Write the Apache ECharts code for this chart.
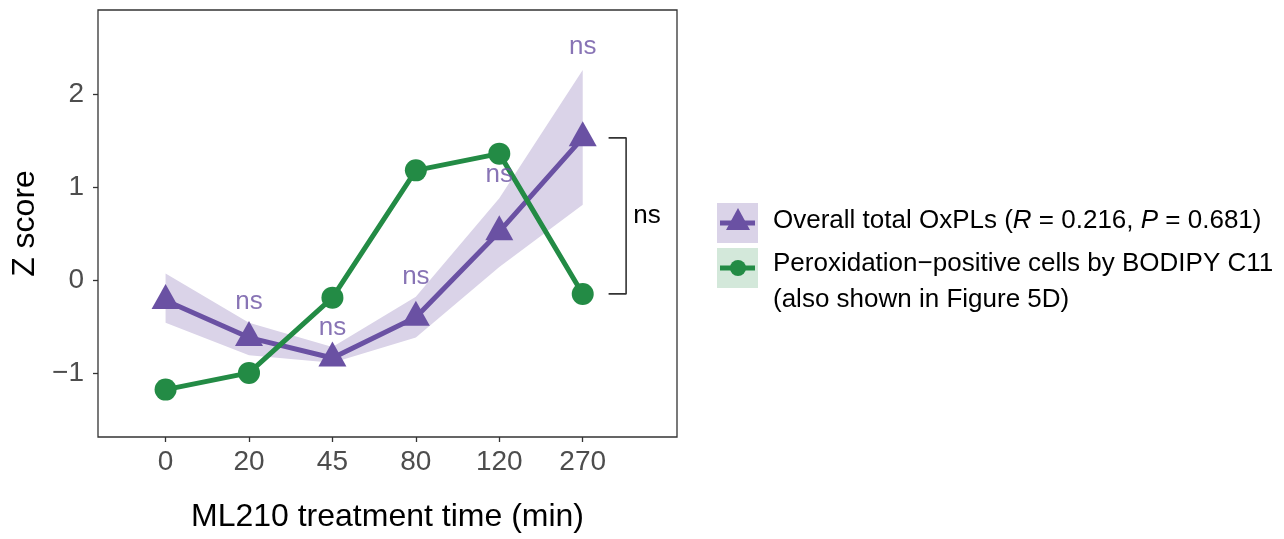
<!DOCTYPE html>
<html>
<head>
<meta charset="utf-8">
<script src="https://cdn.jsdelivr.net/npm/echarts@6/dist/echarts.min.js"></script>
<style>
  html, body { margin: 0; padding: 0; background: #fff; }
  #chart { width: 1284px; height: 539px; }
</style>
</head>
<body>
<div id="chart"></div>
<script>
// time points (min) shown as evenly spaced categories
var times = ['0', '20', '45', '80', '120', '270'];
// overall total OxPLs, mean z score with its band
var oxplMean = [-0.22, -0.62, -0.84, -0.40, 0.52, 1.53];
var oxplUpper = [0.07, -0.46, -0.72, -0.18, 0.88, 2.26];
var oxplLower = [-0.46, -0.81, -0.89, -0.62, 0.14, 0.81];
// peroxidation-positive cells (BODIPY C11)
var bodipy = [-1.18, -1.00, -0.19, 1.18, 1.36, -0.15];
// height of the "ns" marks above each time point (none at 0)
var nsY = [null, -0.24, -0.52, 0.03, 1.13, 2.51];
var yTicks = [-1, 0, 1, 2];

var PURPLE = '#6A51A3', RIBBON = '#DAD3E8';
var GREEN = '#238B45', GREEN_KEY = '#D3E8DA';
var FONT = '"Liberation Sans", Arial, sans-serif';

var chart = echarts.init(document.getElementById('chart'));

var idx = times.map(function (t, i) { return i; });

var option = {
    animation: false,
    backgroundColor: '#fff',
    grid: {
        left: 98, right: 607, top: 10, bottom: 102,
        show: true, borderColor: '#333', borderWidth: 1.3,
        backgroundColor: 'transparent'
    },
    xAxis: {
        type: 'value', min: -0.81, max: 6.13,
        name: 'ML210 treatment time (min)', nameLocation: 'middle', nameGap: 64,
        nameTextStyle: { fontFamily: FONT, fontSize: 32, color: '#000' },
        axisLine: { show: false, onZero: false },
        axisTick: { show: true, customValues: idx, length: 5, lineStyle: { color: '#333', width: 1.3 } },
        axisLabel: {
            customValues: idx, margin: 11, fontFamily: FONT, fontSize: 28, color: '#4d4d4d',
            formatter: function (v) { return times[Math.round(v)]; }
        },
        splitLine: { show: false }
    },
    yAxis: {
        type: 'value', min: -1.69, max: 2.906,
        name: 'Z score', nameLocation: 'middle', nameGap: 57,
        nameTextStyle: { fontFamily: FONT, fontSize: 32, color: '#000' },
        axisLine: { show: false, onZero: false },
        axisTick: { show: true, customValues: yTicks, length: 5, lineStyle: { color: '#333', width: 1.3 } },
        axisLabel: {
            customValues: yTicks, margin: 14, fontFamily: FONT, fontSize: 28, color: '#4d4d4d',
            formatter: function (v) { return v < 0 ? '\u2212' + Math.abs(v) : String(v); }
        },
        splitLine: { show: false }
    },
    series: [
        {
            // confidence band of the OxPL curve
            type: 'custom', silent: true, z: 1,
            data: [[0, 0]],
            renderItem: function (params, api) {
                var pts = [];
                for (var i = 0; i < times.length; i++) pts.push(api.coord([i, oxplUpper[i]]));
                for (var j = times.length - 1; j >= 0; j--) pts.push(api.coord([j, oxplLower[j]]));
                return { type: 'polygon', shape: { points: pts }, style: { fill: RIBBON } };
            }
        },
        {
            name: 'oxpl', type: 'line', z: 2,
            data: oxplMean.map(function (v, i) { return [i, v]; }),
            symbol: 'triangle', symbolSize: [28, 25], symbolOffset: [0, -4],
            lineStyle: { color: PURPLE, width: 5 },
            itemStyle: { color: PURPLE },
            emphasis: { disabled: true }
        },
        {
            name: 'bodipy', type: 'line', z: 3,
            data: bodipy.map(function (v, i) { return [i, v]; }),
            symbol: 'circle', symbolSize: 22,
            lineStyle: { color: GREEN, width: 5 },
            itemStyle: { color: GREEN },
            emphasis: { disabled: true }
        },
        {
            // "ns" marks for each time point
            type: 'scatter', z: 5, symbolSize: 0, silent: true,
            data: nsY.map(function (v, i) { return v === null ? null : [i, v]; }).filter(Boolean),
            label: {
                show: true, position: 'inside', formatter: 'ns',
                fontFamily: FONT, fontSize: 26, color: PURPLE
            }
        },
        {
            // bracket comparing the two series at 270 min
            type: 'line', z: 4, silent: true, symbol: 'none',
            data: [[5.31, oxplMean[5]], [5.52, oxplMean[5]], [5.52, bodipy[5]], [5.31, bodipy[5]]],
            lineStyle: { color: '#333', width: 1.6 },
            markPoint: {
                symbolSize: 0,
                data: [{ coord: [5.77, (oxplMean[5] + bodipy[5]) / 2] }],
                label: { show: true, position: 'inside', formatter: 'ns', fontFamily: FONT, fontSize: 26, color: '#000' }
            }
        }
    ],
    graphic: [
        // legend keys
        { type: 'rect', shape: { x: 717, y: 203, width: 41, height: 40 }, style: { fill: RIBBON } },
        { type: 'line', shape: { x1: 720, y1: 223, x2: 755, y2: 223 }, style: { stroke: PURPLE, lineWidth: 5 } },
        { type: 'polygon', shape: { points: [[738, 208], [750, 230], [726, 230]] }, style: { fill: PURPLE } },
        { type: 'rect', shape: { x: 717, y: 248, width: 41, height: 40 }, style: { fill: GREEN_KEY } },
        { type: 'line', shape: { x1: 720, y1: 268, x2: 755, y2: 268 }, style: { stroke: GREEN, lineWidth: 5 } },
        { type: 'circle', shape: { cx: 738, cy: 268, r: 8 }, style: { fill: GREEN } },
        // legend labels
        {
            type: 'text', x: 773, y: 221,
            style: {
                text: 'Overall total OxPLs ({i|R} = 0.216, {i|P} = 0.681)',
                fontFamily: FONT, fontSize: 26, fill: '#000', verticalAlign: 'middle',
                rich: { i: { fontFamily: FONT, fontSize: 26, fontStyle: 'italic', fill: '#000' } }
            }
        },
        {
            type: 'text', x: 773, y: 246,
            style: {
                text: 'Peroxidation\u2212positive cells by BODIPY C11\n(also shown in Figure 5D)',
                fontFamily: FONT, fontSize: 26, lineHeight: 36, fill: '#000', verticalAlign: 'top'
            }
        }
    ]
};

chart.setOption(option);
</script>
</body>
</html>
